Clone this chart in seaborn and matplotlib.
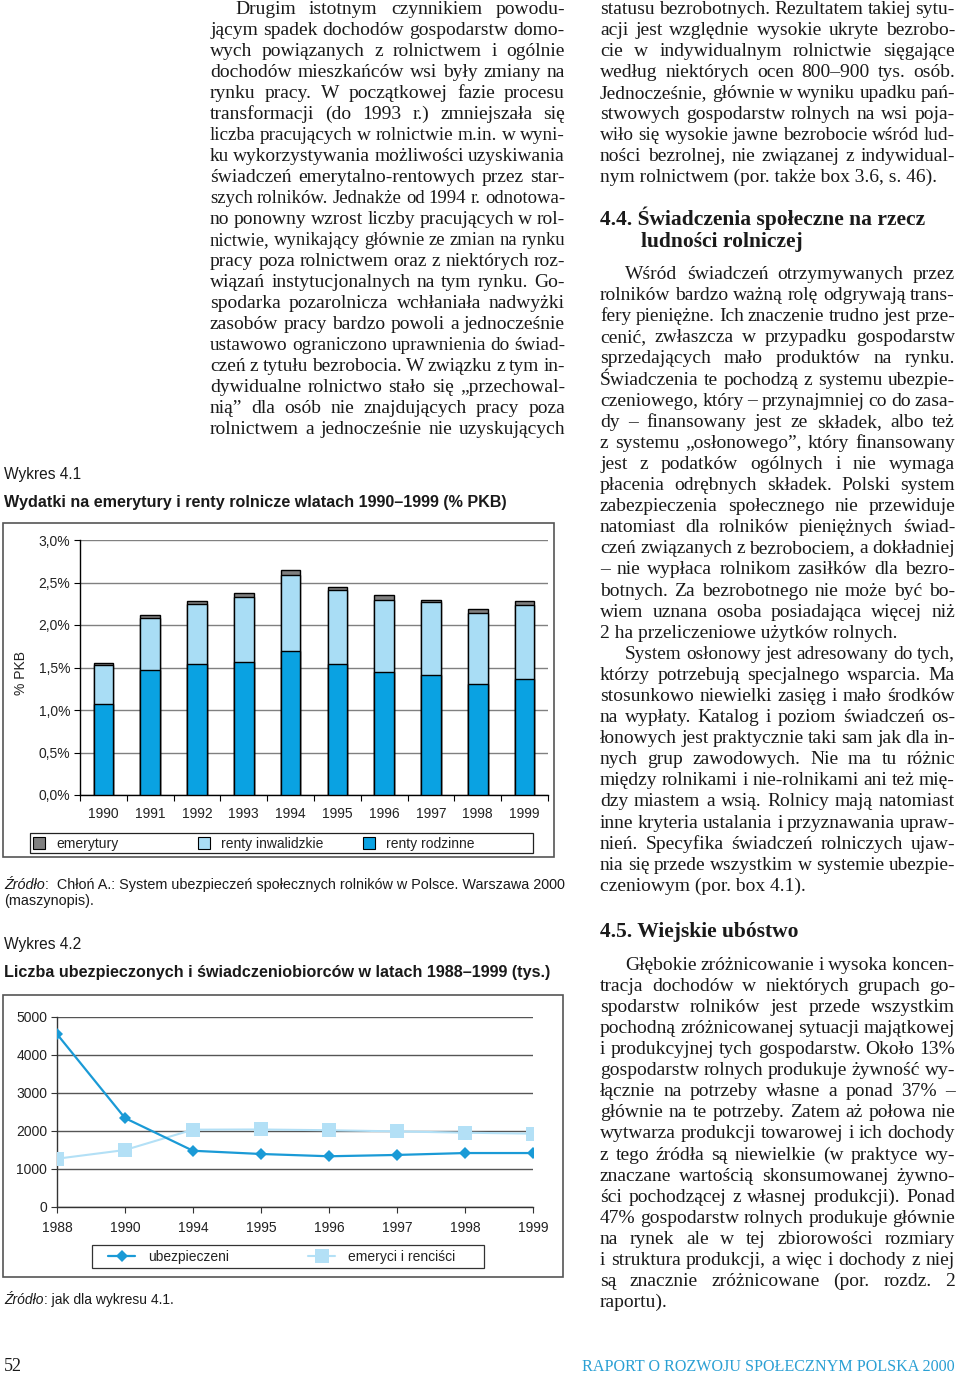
import matplotlib
matplotlib.use('Agg')
import pandas as pd
import matplotlib.pyplot as plt
import seaborn as sns
from matplotlib.lines import Line2D
from matplotlib.patches import Rectangle
from matplotlib.font_manager import FontProperties

# --- Wykres 4.1: wydatki (% PKB) ---
years_41 = ['1990', '1991', '1992', '1993', '1994', '1995', '1996', '1997', '1998', '1999']
renty_rodzinne = [1.07, 1.47, 1.54, 1.57, 1.70, 1.54, 1.45, 1.41, 1.31, 1.36]
renty_inwalidzkie = [0.46, 0.61, 0.71, 0.76, 0.89, 0.87, 0.85, 0.86, 0.83, 0.87]
emerytury = [0.02, 0.04, 0.035, 0.045, 0.055, 0.04, 0.05, 0.03, 0.05, 0.055]
y_ticks_41 = [0.0, 0.5, 1.0, 1.5, 2.0, 2.5, 3.0]

# --- Wykres 4.2: liczba ubezpieczonych i swiadczeniobiorcow (tys.) ---
years_42 = ['1988', '1990', '1994', '1995', '1996', '1997', '1998', '1999']
ubezpieczeni = [4550, 2340, 1480, 1395, 1335, 1370, 1420, 1420]
emeryci_rencisci = [1270, 1500, 2035, 2040, 2020, 1990, 1955, 1930]
y_ticks_42 = [0, 1000, 2000, 3000, 4000, 5000]

# --- tekst strony ---
left_col = [
    "Drugim istotnym czynnikiem powodu-",
    "jącym spadek dochodów gospodarstw domo-",
    "wych powiązanych z rolnictwem i ogólnie",
    "dochodów mieszkańców wsi były zmiany na",
    "rynku pracy. W początkowej fazie procesu",
    "transformacji (do 1993 r.) zmniejszała się",
    "liczba pracujących w rolnictwie m.in. w wyni-",
    "ku wykorzystywania możliwości uzyskiwania",
    "świadczeń emerytalno-rentowych przez star-",
    "szych rolników. Jednakże od 1994 r. odnotowa-",
    "no ponowny wzrost liczby pracujących w rol-",
    "nictwie, wynikający głównie ze zmian na rynku",
    "pracy poza rolnictwem oraz z niektórych roz-",
    "wiązań instytucjonalnych na tym rynku. Go-",
    "spodarka pozarolnicza wchłaniała nadwyżki",
    "zasobów pracy bardzo powoli a jednocześnie",
    "ustawowo ograniczono uprawnienia do świad-",
    "czeń z tytułu bezrobocia. W związku z tym in-",
    "dywidualne rolnictwo stało się „przechowal-",
    "nią” dla osób nie znajdujących pracy poza",
    "rolnictwem a jednocześnie nie uzyskujących",
]
right_top = [
    "statusu bezrobotnych. Rezultatem takiej sytu-",
    "acji jest względnie wysokie ukryte bezrobo-",
    "cie w indywidualnym rolnictwie sięgające",
    "według niektórych ocen 800–900 tys. osób.",
    "Jednocześnie, głównie w wyniku upadku pań-",
    "stwowych gospodarstw rolnych na wsi poja-",
    "wiło się wysokie jawne bezrobocie wśród lud-",
    "ności bezrolnej, nie związanej z indywidual-",
    "nym rolnictwem (por. także box 3.6, s. 46).",
]
para_swiadczenia = [
    "Wśród świadczeń otrzymywanych przez",
    "rolników bardzo ważną rolę odgrywają trans-",
    "fery pieniężne. Ich znaczenie trudno jest prze-",
    "cenić, zwłaszcza w przypadku gospodarstw",
    "sprzedających mało produktów na rynku.",
    "Świadczenia te pochodzą z systemu ubezpie-",
    "czeniowego, który – przynajmniej co do zasa-",
    "dy – finansowany jest ze składek, albo też",
    "z systemu „osłonowego”, który finansowany",
    "jest z podatków ogólnych i nie wymaga",
    "płacenia odrębnych składek. Polski system",
    "zabezpieczenia społecznego nie przewiduje",
    "natomiast dla rolników pieniężnych świad-",
    "czeń związanych z bezrobociem, a dokładniej",
    "– nie wypłaca rolnikom zasiłków dla bezro-",
    "botnych. Za bezrobotnego nie może być bo-",
    "wiem uznana osoba posiadająca więcej niż",
    "2 ha przeliczeniowe użytków rolnych.",
]
para_oslonowy = [
    "System osłonowy jest adresowany do tych,",
    "którzy potrzebują specjalnego wsparcia. Ma",
    "stosunkowo niewielki zasięg i mało środków",
    "na wypłaty. Katalog i poziom świadczeń os-",
    "łonowych jest praktycznie taki sam jak dla in-",
    "nych grup zawodowych. Nie ma tu różnic",
    "między rolnikami i nie-rolnikami ani też mię-",
    "dzy miastem a wsią. Rolnicy mają natomiast",
    "inne kryteria ustalania i przyznawania upraw-",
    "nień. Specyfika świadczeń rolniczych ujaw-",
    "nia się przede wszystkim w systemie ubezpie-",
    "czeniowym (por. box 4.1).",
]
para_ubostwo = [
    "Głębokie zróżnicowanie i wysoka koncen-",
    "tracja dochodów w niektórych grupach go-",
    "spodarstw rolników jest przede wszystkim",
    "pochodną zróżnicowanej sytuacji majątkowej",
    "i produkcyjnej tych gospodarstw. Około 13%",
    "gospodarstw rolnych produkuje żywność wy-",
    "łącznie na potrzeby własne a ponad 37% –",
    "głównie na te potrzeby. Zatem aż połowa nie",
    "wytwarza produkcji towarowej i ich dochody",
    "z tego źródła są niewielkie (w praktyce wy-",
    "znaczane wartością skonsumowanej żywno-",
    "ści pochodzącej z własnej produkcji). Ponad",
    "47% gospodarstw rolnych produkuje głównie",
    "na rynek ale w tej zbiorowości rozmiary",
    "i struktura produkcji, a więc i dochody z niej",
    "są znacznie zróżnicowane (por. rozdz. 2",
    "raportu).",
]

DARK = '#0aa2e2'
LIGHT = '#a9ddf5'
GRAY = '#808080'
LINE_DARK = '#1a9ad6'
LINE_LIGHT = '#b3e0f6'
TXT = '#1a1a1a'
SERIF = 'Liberation Serif'
SANS = 'Liberation Sans'

sns.set_theme(style='white')
plt.rcParams['font.family'] = [SANS, 'DejaVu Sans']
plt.rcParams['text.color'] = TXT

W, H = 960, 1374
fig = plt.figure(figsize=(W / 100, H / 100), dpi=100)
fig.patch.set_facecolor('white')
renderer = fig.canvas.get_renderer()


def fx(x):
    return x / W


def fy(y):
    return 1 - y / H


def rect(l, t, r, b):
    return [l / W, 1 - b / H, (r - l) / W, (b - t) / H]


def text_width(s, fp):
    w, h, d = renderer.get_text_width_height_descent(s, fp, ismath=False)
    return w


def justify(lines, x0, x1, y0, step, size, indent=0, last_left=True, min_gap=4.0):
    for i, line in enumerate(lines):
        fp = FontProperties(family=SERIF, size=size)
        y = y0 + i * step
        start = x0 + (indent if i == 0 else 0)
        words = line.split(' ')
        if (i == len(lines) - 1 and last_left) or len(words) == 1:
            fig.text(fx(start), fy(y), line, fontproperties=fp, va='baseline', ha='left', color=TXT)
            continue
        widths = [text_width(w, fp) for w in words]
        avail = x1 - start
        need = sum(widths) + (len(words) - 1) * min_gap
        if need > avail:
            # tight line: shrink the type a little, as the typesetter did
            k = (avail - (len(words) - 1) * min_gap) / sum(widths)
            fp = FontProperties(family=SERIF, size=size * k)
            widths = [text_width(w, fp) for w in words]
        gap = (avail - sum(widths)) / (len(words) - 1)
        x = start
        for w, wd in zip(words, widths):
            fig.text(fx(x), fy(y), w, fontproperties=fp, va='baseline', ha='left', color=TXT)
            x += wd + gap


def box(l, t, r, b, lw=1.2, color='#555555'):
    fig.patches.append(Rectangle((fx(l), fy(b)), (r - l) / W, (b - t) / H, fill=False,
                                 edgecolor=color, lw=lw, transform=fig.transFigure))


def italic_prefix(x, y, prefix, rest, size):
    fpi = FontProperties(family=SANS, size=size, style='italic')
    fig.text(fx(x), fy(y), prefix, fontproperties=fpi, va='baseline')
    wi = text_width(prefix, fpi)
    fig.text(fx(x + wi), fy(y), rest, fontsize=size, family=SANS, va='baseline')


def legend_entry(handle, label, x, y, hlen, hpad):
    fig.legend([handle], [label], loc='center left', bbox_to_anchor=(fx(x), fy(y)),
               bbox_transform=fig.transFigure, frameon=False, borderpad=0, borderaxespad=0,
               handlelength=hlen, handletextpad=hpad, fontsize=10, labelcolor='#222222')


BODY = 14.0

# ---------- page text ----------
justify(left_col, 210, 565, 14, 21.0, BODY, indent=25, last_left=False)
justify(right_top, 600, 955, 14, 21.0, BODY)
fp_head = FontProperties(family=SERIF, size=15.5, weight='bold')
fig.text(fx(600), fy(225), "4.4. Świadczenia społeczne na rzecz", fontproperties=fp_head, va='baseline')
fig.text(fx(641), fy(247), "ludności rolniczej", fontproperties=fp_head, va='baseline')
justify(para_swiadczenia, 600, 955, 279, 21.1, BODY, indent=25)
justify(para_oslonowy, 600, 955, 279 + 18 * 21.1, 21.1, BODY, indent=25)
fig.text(fx(600), fy(937), "4.5. Wiejskie ubóstwo", fontproperties=fp_head, va='baseline')
justify(para_ubostwo, 600, 955, 970, 21.06, BODY, indent=25)

fig.text(fx(4), fy(1371), "52", family=SERIF, fontsize=13, va='baseline')
fig.text(fx(955), fy(1371), "RAPORT O ROZWOJU SPOŁECZNYM POLSKA 2000", family=SERIF,
         fontsize=11.6, va='baseline', ha='right', color='#2aa0d4')

# ---------- Wykres 4.1 ----------
fig.text(fx(4), fy(479), "Wykres 4.1", fontsize=11.2, va='baseline')
fig.text(fx(4), fy(507), "Wydatki na emerytury i renty rolnicze wlatach 1990–1999 (% PKB)",
         fontsize=11.6, weight='bold', va='baseline')
box(3, 523, 554, 857)

df41 = pd.DataFrame({'rok': years_41, 'rodz': renty_rodzinne,
                     'inw': renty_inwalidzkie, 'em': emerytury})
df41['poziom2'] = df41['rodz'] + df41['inw']
df41['poziom3'] = df41['poziom2'] + df41['em']

ax1 = fig.add_axes(rect(80, 540, 548, 795))
for col, c in [('poziom3', GRAY), ('poziom2', LIGHT), ('rodz', DARK)]:
    sns.barplot(data=df41, x='rok', y=col, color=c, saturation=1, width=0.42,
                edgecolor='black', linewidth=1.0, errorbar=None, ax=ax1, zorder=3)
ax1.set_xlim(-0.5, 9.5)
ax1.set_ylim(0, 3.0)
ax1.set_yticks(y_ticks_41)
ax1.set_yticklabels([f"{v:.1f}%".replace('.', ',') for v in y_ticks_41])
ax1.set_xlabel('')
ax1.set_ylabel('')
ax1.yaxis.grid(True, color='#808080', lw=1.0)
ax1.set_axisbelow(True)
for s in ['top', 'right']:
    ax1.spines[s].set_visible(False)
for s in ['left', 'bottom']:
    ax1.spines[s].set_color('black')
    ax1.spines[s].set_linewidth(1.0)
ax1.set_xticks([i - 0.5 for i in range(11)], minor=True)
ax1.tick_params(axis='x', which='major', length=0, pad=9, labelsize=10, labelcolor='#222222')
ax1.tick_params(axis='x', which='minor', length=4, width=0.8, color='black', direction='out', bottom=True)
ax1.tick_params(axis='y', length=4, width=0.8, color='black', direction='out', left=True,
                pad=3, labelsize=10, labelcolor='#222222')
ax1.set_facecolor('white')
fig.text(fx(21), fy(673), "% PKB", rotation=90, fontsize=10, ha='center', va='center', color='#222222')

box(30, 833, 533, 853, lw=0.9, color='#222222')
labels_41 = ['emerytury', 'renty inwalidzkie', 'renty rodzinne']
for c, lab, x in zip([GRAY, LIGHT, DARK], labels_41, [34, 199, 364]):
    h = Line2D([], [], marker='s', ls='none', markersize=8, markerfacecolor=c,
               markeredgecolor='black', markeredgewidth=0.8)
    legend_entry(h, lab, x, 844, 0.7, 0.9)

italic_prefix(4, 889, "Źródło", ":  Chłoń A.: System ubezpieczeń społecznych rolników w Polsce. Warszawa 2000", 10.35)
fig.text(fx(4), fy(905), "(maszynopis).", fontsize=10.35, va='baseline')

# ---------- Wykres 4.2 ----------
fig.text(fx(4), fy(949), "Wykres 4.2", fontsize=11.2, va='baseline')
fig.text(fx(4), fy(977), "Liczba ubezpieczonych i świadczeniobiorców w latach 1988–1999 (tys.)",
         fontsize=11.6, weight='bold', va='baseline')
box(3, 995, 563, 1277)

df42 = pd.DataFrame({'rok': years_42, 'ubezpieczeni': ubezpieczeni,
                     'emeryci i renciści': emeryci_rencisci})
ax2 = fig.add_axes(rect(57, 1017, 533, 1207))
sns.lineplot(data=df42, x='rok', y='emeryci i renciści', sort=False, color=LINE_LIGHT, lw=1.5,
             marker='s', markersize=10, markeredgewidth=0, ax=ax2, zorder=3)
sns.lineplot(data=df42, x='rok', y='ubezpieczeni', sort=False, color=LINE_DARK, lw=1.6,
             marker='D', markersize=6, markeredgewidth=0, ax=ax2, zorder=4)
ax2.set_xlim(0, len(years_42) - 1)
ax2.set_ylim(0, 5000)
ax2.set_yticks(y_ticks_42)
ax2.set_yticklabels([str(v) for v in y_ticks_42])
ax2.set_xlabel('')
ax2.set_ylabel('')
ax2.yaxis.grid(True, color='#555555', lw=1.0)
ax2.set_axisbelow(True)
for s in ['top', 'right']:
    ax2.spines[s].set_visible(False)
for s in ['left', 'bottom']:
    ax2.spines[s].set_color('#333333')
    ax2.spines[s].set_linewidth(1.0)
ax2.tick_params(axis='x', length=4, width=0.8, color='#333333', direction='out', bottom=True,
                pad=6, labelsize=10, labelcolor='#222222')
ax2.tick_params(axis='y', length=4, width=0.8, color='#333333', direction='out', left=True,
                pad=3, labelsize=10, labelcolor='#222222')
ax2.set_facecolor('white')

box(92, 1245, 484, 1268, lw=0.9, color='#333333')
h_ub = Line2D([], [], color=LINE_DARK, lw=1.6, marker='D', markersize=6, markeredgewidth=0)
h_em = Line2D([], [], color=LINE_LIGHT, lw=1.5, marker='s', markersize=10, markeredgewidth=0)
legend_entry(h_ub, 'ubezpieczeni', 108, 1257, 1.95, 0.95)
legend_entry(h_em, 'emeryci i renciści', 308, 1257, 1.95, 0.95)

italic_prefix(4, 1304, "Źródło", ": jak dla wykresu 4.1.", 10)

fig.savefig('out.png', dpi=100, facecolor='white')
